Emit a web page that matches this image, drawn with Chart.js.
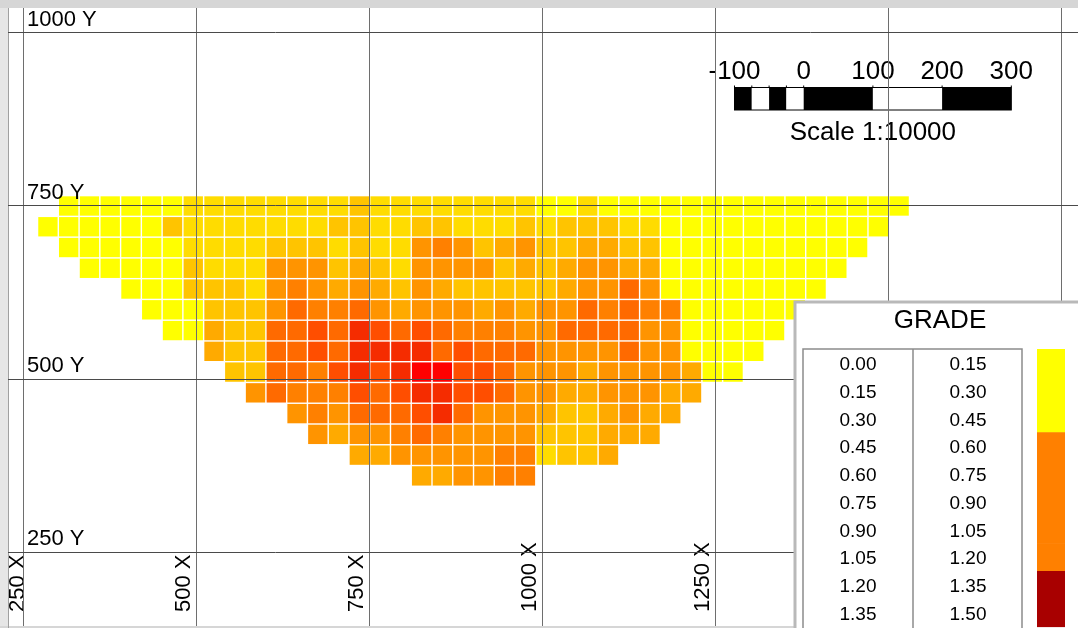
<!DOCTYPE html>
<html>
<head>
<meta charset="utf-8">
<script src="https://cdn.jsdelivr.net/npm/chart.js@4.4.1/dist/chart.umd.min.js"></script>
<style>
  html, body { margin: 0; padding: 0; background: #fff; overflow: hidden; }
  #wrap { position: relative; width: 1078px; height: 628px; }
</style>
</head>
<body>
<div id="wrap"><canvas id="plan" width="1078" height="628"></canvas></div>
<script>
// Block size of the model (metres)
const BLOCK = 30;

// Grid / annotation values
const xGridValues = [250, 500, 750, 1000, 1250, 1500, 1750];
const yGridValues = [250, 500, 750, 1000];

// Block rows: centre elevation (Y) of each row and X of its first block
const rowY = [750, 720, 690, 660, 630, 600, 570, 540, 510, 480, 450, 420, 390, 360];
const rowStartX = [315, 285, 315, 345, 405, 435, 465, 525, 555, 585, 645, 675, 735, 825];

// Estimated grade of each block, row by row, west to east
const gradeRows = [
  [0.10,0.10,0.10,0.10,0.10,0.10, 0.25,0.25,0.25,0.25,0.25,0.25,0.25,0.25, 0.35, 0.25,0.25,0.25,0.25,0.25,0.25,0.25,0.25, 0.10,0.10,0.25,0.10, 0.10,0.10,0.10,0.10,0.10,0.10,0.10,0.10,0.10,0.10,0.10,0.10,0.10,0.10],
  [0.10,0.10,0.10,0.10,0.10,0.10, 0.35, 0.25,0.25,0.25,0.25,0.25,0.25,0.25, 0.35,0.35,0.25,0.25,0.35,0.35,0.25,0.25,0.25,0.35,0.25,0.35,0.35,0.35, 0.25,0.25, 0.10,0.10,0.10,0.10,0.10,0.10,0.10,0.10,0.10,0.10,0.10],
  [0.10,0.10,0.10,0.10,0.10,0.10, 0.25,0.25,0.25,0.25,0.35,0.35,0.35, 0.25,0.35,0.25,0.25,0.55,0.65,0.55,0.35,0.45,0.55,0.35,0.35,0.45,0.45, 0.35,0.35, 0.10,0.10,0.10,0.10,0.10,0.10,0.10,0.10,0.10,0.10],
  [0.10,0.10,0.10,0.10,0.10, 0.35,0.25,0.25,0.25,0.55,0.55,0.55, 0.35,0.45,0.35,0.25,0.55,0.55,0.55,0.55,0.35,0.45,0.35,0.45,0.55,0.55, 0.45,0.45, 0.10,0.10,0.10,0.10,0.10,0.10,0.10,0.10,0.10],
  [0.10,0.10,0.10, 0.35,0.35,0.35,0.25,0.55,0.65,0.55, 0.45,0.55,0.45,0.35,0.55,0.45,0.35,0.35,0.35,0.35,0.35,0.45,0.55,0.55, 0.75,0.55, 0.10,0.10,0.10,0.10,0.10,0.10,0.10,0.10],
  [0.10,0.10,0.10, 0.35,0.35,0.35,0.55,0.75,0.65, 0.65,0.75,0.55,0.45,0.55,0.55,0.55,0.45,0.55,0.45,0.55,0.55,0.75,0.65, 0.75,0.65,0.65, 0.10,0.10,0.10,0.10,0.10,0.10],
  [0.10,0.10, 0.45,0.35,0.35,0.75,0.75,0.85, 0.75,0.95,0.85,0.75,0.85,0.75,0.65,0.65,0.65,0.55,0.55,0.75,0.75,0.75, 0.75,0.55,0.55, 0.10,0.10,0.10,0.10,0.10],
  [0.45,0.35,0.35,0.75,0.75,0.85,0.75,0.95,0.95,0.95,0.95,0.75,0.85, 0.75,0.75,0.75,0.55,0.55,0.55,0.55,0.75,0.55,0.55, 0.10,0.10,0.10,0.10],
  [0.35,0.35,0.75,0.75,0.65,0.85,0.95,0.85,0.95,1.05,1.05,0.85, 0.85,0.75,0.55,0.55,0.55,0.45,0.55,0.55,0.55,0.55,0.45, 0.10,0.10],
  [0.55,0.75,0.65,0.65,0.65,0.85,0.75,0.85,0.95,0.95,0.85, 0.85,0.75,0.55,0.55,0.45,0.45,0.55,0.55,0.55,0.45,0.45],
  [0.55,0.65,0.55,0.75,0.75,0.75,0.85,0.95,0.75, 0.55,0.55,0.55,0.45,0.35,0.35,0.45,0.55,0.45,0.45],
  [0.55,0.45,0.55,0.55,0.65,0.75,0.65,0.55, 0.55,0.55,0.55,0.35,0.35,0.35,0.45,0.45,0.45],
  [0.45,0.45,0.55,0.55,0.55,0.55, 0.55,0.65,0.65,0.25,0.35,0.35,0.45],
  [0.45,0.45,0.55,0.55,0.65,0.65]
];

// Legend classes
const legendFrom = [0.00, 0.15, 0.30, 0.45, 0.60, 0.75, 0.90, 1.05, 1.20, 1.35];
const legendTo   = [0.15, 0.30, 0.45, 0.60, 0.75, 0.90, 1.05, 1.20, 1.35, 1.50];

// Scale bar divisions (metres)
const scaleBarStops  = [-100, -75, -50, -25, 0, 100, 200, 300];
const scaleBarLabels = [-100, 0, 100, 200, 300];

// ---- styling helpers -------------------------------------------------
const FONT = '"Liberation Sans", Arial, Helvetica, sans-serif';
const rampBreaks = [0.2, 0.3, 0.4, 0.5, 0.6, 0.7, 0.8, 0.9, 1.0];
const rampColors = ['#ffff00', '#ffdc00', '#ffc400', '#ffaa00', '#ff9400',
                    '#ff8000', '#ff6a00', '#ff4e00', '#f52c00', '#ff0000'];
function blockColor(g) {
  for (let i = 0; i < rampBreaks.length; i++) if (g < rampBreaks[i]) return rampColors[i];
  return rampColors[rampColors.length - 1];
}
function legendColor(g) {
  if (g < 0.45) return '#ffff00';
  if (g < 1.20) return '#ff8000';
  return '#a80000';
}
function blockRadius(ctx) {
  const xs = ctx.chart.scales.x;
  const side = Math.abs(xs.getPixelForValue(BLOCK) - xs.getPixelForValue(0)) - 1.4;
  return side / Math.SQRT2;
}

// Block centres
const blocks = [];
gradeRows.forEach((row, r) => {
  row.forEach((g, i) => blocks.push({ x: rowStartX[r] + i * BLOCK, y: rowY[r], g: g }));
});

// ---- plugins -----------------------------------------------------------
const framePlugin = {
  id: 'frame',
  beforeDraw(chart) {
    const { ctx, width, height } = chart;
    ctx.save();
    ctx.fillStyle = '#ffffff';
    ctx.fillRect(0, 0, width, height);
    ctx.fillStyle = '#d6d6d6';
    ctx.fillRect(0, 0, width, 8);
    ctx.fillStyle = '#e6e6e6';
    ctx.fillRect(0, 8, 8, height - 8);
    ctx.fillStyle = '#d6d6d6';
    ctx.fillRect(0, height - 2, width, 2);
    ctx.strokeStyle = '#a0a0a0';
    ctx.lineWidth = 1;
    ctx.beginPath();
    ctx.moveTo(8.5, 8); ctx.lineTo(8.5, height);
    ctx.stroke();
    ctx.restore();
  }
};

const scaleBarPlugin = {
  id: 'scaleBar',
  afterDatasetsDraw(chart) {
    const { ctx } = chart;
    const xs = chart.scales.x;
    const ppu = xs.getPixelForValue(1) - xs.getPixelForValue(0);
    const origin = 803.7, top = 87.5, h = 22.5;
    const px = v => origin + v * ppu;
    ctx.save();
    for (let i = 0; i < scaleBarStops.length - 1; i++) {
      ctx.fillStyle = i % 2 === 0 ? '#000000' : '#ffffff';
      ctx.fillRect(px(scaleBarStops[i]), top, px(scaleBarStops[i + 1]) - px(scaleBarStops[i]), h);
    }
    const first = px(scaleBarStops[0]), last = px(scaleBarStops[scaleBarStops.length - 1]);
    ctx.strokeStyle = '#000000';
    ctx.lineWidth = 1;
    ctx.strokeRect(first, top, last - first, h);
    ctx.beginPath();
    scaleBarStops.forEach(v => { ctx.moveTo(px(v), top - 2); ctx.lineTo(px(v), top); });
    ctx.stroke();
    ctx.fillStyle = '#000000';
    ctx.font = '26px ' + FONT;
    ctx.textAlign = 'center';
    ctx.textBaseline = 'middle';
    scaleBarLabels.forEach(v => ctx.fillText(String(v), px(v), 72));
    ctx.fillText('Scale 1:10000', px(100), 133);
    ctx.restore();
  }
};

const xLabelPlugin = {
  id: 'xLabels',
  afterDatasetsDraw(chart) {
    const { ctx, chartArea } = chart;
    const xs = chart.scales.x;
    ctx.save();
    ctx.fillStyle = '#000000';
    ctx.font = '22px ' + FONT;
    ctx.textAlign = 'left';
    ctx.textBaseline = 'alphabetic';
    xGridValues.forEach(v => {
      const p = xs.getPixelForValue(v);
      const base = Math.max(p - 6.5, chartArea.left + 15.5);
      ctx.save();
      ctx.translate(base, 612);
      ctx.rotate(-Math.PI / 2);
      ctx.fillText(v + ' X', 0, 0);
      ctx.restore();
    });
    ctx.restore();
  }
};

const gradeLegendPlugin = {
  id: 'gradeLegend',
  afterDraw(chart) {
    const { ctx, width, height } = chart;
    const bx = 795, by = 302;
    ctx.save();
    ctx.fillStyle = '#ffffff';
    ctx.fillRect(bx, by, width - bx + 10, height - by + 10);
    ctx.strokeStyle = '#b9b9b9';
    ctx.lineWidth = 3;
    ctx.strokeRect(bx, by, width - bx + 20, height - by + 20);

    ctx.fillStyle = '#000000';
    ctx.font = '26px ' + FONT;
    ctx.textAlign = 'center';
    ctx.textBaseline = 'middle';
    ctx.fillText('GRADE', 940, 321);

    const tLeft = 803, tTop = 349, tMid = 913, tRight = 1022, rowH = 27.75;
    ctx.strokeStyle = '#8c8c8c';
    ctx.lineWidth = 1.5;
    ctx.beginPath();
    ctx.moveTo(tLeft, height); ctx.lineTo(tLeft, tTop); ctx.lineTo(tRight, tTop); ctx.lineTo(tRight, height);
    ctx.moveTo(tMid, tTop); ctx.lineTo(tMid, height);
    ctx.stroke();

    ctx.font = '19px ' + FONT;
    ctx.fillStyle = '#000000';
    legendFrom.forEach((v, i) => {
      const cy = tTop + rowH * (i + 0.5) + 2;
      ctx.fillText(v.toFixed(2), 858, cy);
      ctx.fillText(legendTo[i].toFixed(2), 968, cy);
    });
    legendFrom.forEach((v, i) => {
      ctx.fillStyle = legendColor(v);
      ctx.fillRect(1037, tTop + rowH * i, 28, rowH + 0.6);
    });
    ctx.restore();
  }
};

// ---- chart -------------------------------------------------------------
new Chart(document.getElementById('plan'), {
  type: 'scatter',
  data: {
    datasets: [{
      label: 'GRADE',
      data: blocks,
      pointStyle: 'rect',
      borderWidth: 0,
      pointRadius: blockRadius,
      pointHoverRadius: blockRadius,
      backgroundColor(ctx) { return blockColor(ctx.raw ? ctx.raw.g : 0); },
      hoverBackgroundColor(ctx) { return blockColor(ctx.raw ? ctx.raw.g : 0); }
    }]
  },
  options: {
    responsive: false,
    animation: false,
    devicePixelRatio: 1,
    events: [],
    layout: { padding: { left: 8, top: 8, right: 0, bottom: 2 } },
    plugins: { legend: { display: false }, tooltip: { enabled: false } },
    scales: {
      x: {
        type: 'linear',
        min: 227.3,
        max: 1773.5,
        afterBuildTicks(scale) { scale.ticks = xGridValues.map(v => ({ value: v })); },
        afterFit(scale) { scale.height = 0; scale.paddingLeft = 0; scale.paddingRight = 0; },
        grid: { color: '#6e6e6e', lineWidth: 1, drawTicks: false, z: 1 },
        border: { display: false },
        ticks: { display: false }
      },
      y: {
        type: 'linear',
        min: 143.1,
        max: 1036.1,
        afterBuildTicks(scale) { scale.ticks = yGridValues.map(v => ({ value: v })); },
        afterFit(scale) { scale.width = 0; scale.paddingTop = 0; scale.paddingBottom = 0; },
        grid: { color: '#4a4a4a', lineWidth: 1, drawTicks: false, z: 1 },
        border: { display: false },
        ticks: {
          mirror: true,
          padding: 19,
          labelOffset: -13,
          color: '#000000',
          font: { family: FONT, size: 22 },
          callback: v => v + ' Y',
          z: 2
        }
      }
    }
  },
  plugins: [framePlugin, scaleBarPlugin, xLabelPlugin, gradeLegendPlugin]
});
</script>
</body>
</html>
